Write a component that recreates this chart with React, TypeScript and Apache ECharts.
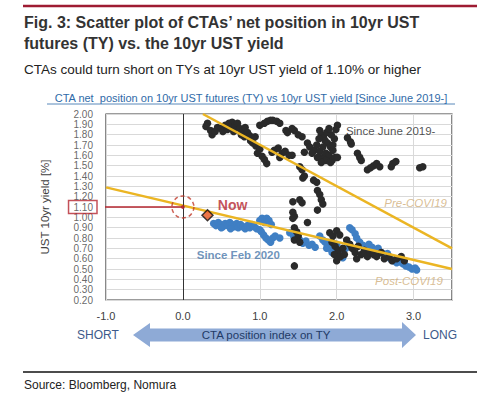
import React, { useEffect, useRef } from "react";
import * as echarts from "echarts";

// Since June 2019 (black) points [CTA position index, UST 10yr yield]
const sinceJune2019: number[][] = [
  [0.32, 1.91], [0.30, 1.88], [0.38, 1.80], [0.36, 1.84], [0.45, 1.87], [0.42, 1.83], [0.50, 1.86],
  [0.55, 1.89], [0.52, 1.83], [0.58, 1.85], [0.60, 1.91], [0.64, 1.92], [0.62, 1.87], [0.68, 1.88],
  [0.71, 1.91], [0.66, 1.83], [0.74, 1.86], [0.78, 1.84], [0.81, 1.87], [0.76, 1.80], [0.84, 1.82],
  [0.80, 1.78], [0.87, 1.79], [0.91, 1.77], [0.88, 1.74], [0.94, 1.78], [0.91, 1.72], [0.95, 1.69],
  [0.97, 1.62], [1.00, 1.66], [1.03, 1.59], [1.09, 1.52], [1.06, 1.56],
  [1.00, 1.89], [1.06, 1.91], [1.10, 1.93], [1.14, 1.94], [1.17, 1.94], [1.22, 1.93], [1.26, 1.91],
  [1.34, 1.84], [1.36, 1.82], [1.45, 1.84], [1.42, 1.86], [1.55, 1.78], [1.50, 1.80],
  [1.19, 1.65], [1.24, 1.67], [1.29, 1.62], [1.33, 1.64], [1.38, 1.60], [1.42, 1.60], [1.26, 1.58], [1.16, 1.63],
  [1.52, 1.49], [1.55, 1.46], [1.56, 1.38], [1.58, 1.40], [1.74, 1.34], [1.70, 1.36],
  [1.62, 1.72], [1.58, 1.63], [1.65, 1.68], [1.71, 1.65], [1.68, 1.62], [1.74, 1.70], [1.78, 1.84],
  [1.80, 1.80], [1.83, 1.77], [1.87, 1.82], [1.85, 1.74], [1.88, 1.72], [1.82, 1.68], [1.78, 1.64],
  [1.82, 1.58], [1.86, 1.62], [1.90, 1.60], [1.94, 1.55], [1.98, 1.58], [2.01, 1.58], [1.95, 1.65],
  [1.92, 1.68], [1.97, 1.76], [2.01, 1.89], [1.99, 1.85], [1.93, 1.80], [1.90, 1.86], [1.95, 1.70],
  [1.75, 1.58], [1.86, 1.55], [1.80, 1.53], [1.92, 1.53], [1.77, 1.76],
  [2.14, 1.77], [2.18, 1.73], [2.19, 1.71], [2.27, 1.62], [2.30, 1.58], [2.32, 1.55], [2.40, 1.46],
  [2.44, 1.48], [2.48, 1.50], [2.52, 1.52], [2.56, 1.49], [2.73, 1.52], [2.77, 1.54], [2.71, 1.49],
  [3.08, 1.48], [3.12, 1.49],
  [1.52, 1.17], [1.55, 1.14], [1.43, 1.15], [1.75, 1.26], [1.78, 1.22], [1.80, 1.17], [1.82, 1.13],
  [1.75, 1.07], [1.43, 1.05], [1.45, 1.01], [1.43, 0.99], [1.62, 0.95], [1.45, 0.90], [1.48, 0.86],
  [1.50, 0.82], [1.45, 0.78], [1.52, 0.76], [1.45, 0.53],
  [1.91, 0.85], [1.95, 0.82], [2.00, 0.87], [2.04, 0.83], [1.94, 0.76], [1.98, 0.72], [2.02, 0.68],
  [1.97, 0.64], [2.00, 0.58], [2.05, 0.62], [2.08, 0.70], [2.13, 0.78], [2.17, 0.74], [2.20, 0.70],
  [2.24, 0.66], [2.28, 0.72], [2.32, 0.64], [2.36, 0.68], [2.40, 0.62], [2.43, 0.66], [2.48, 0.64],
  [2.52, 0.62], [2.58, 0.66], [2.62, 0.60], [2.68, 0.62], [2.72, 0.58], [2.78, 0.60], [2.84, 0.62],
  [2.88, 0.58], [2.10, 0.64], [2.26, 0.60],
];

// Since Feb 2020 (blue) points
const sinceFeb2020: number[][] = [
  [0.40, 0.94], [0.43, 0.92], [0.46, 0.95], [0.49, 0.93], [0.52, 0.91], [0.55, 0.94], [0.58, 0.92],
  [0.61, 0.95], [0.64, 0.93], [0.67, 0.91], [0.70, 0.94], [0.72, 0.90], [0.75, 0.93], [0.78, 0.91],
  [0.81, 0.89], [0.84, 0.92], [0.87, 0.90], [0.90, 0.93], [0.93, 0.91], [0.96, 0.89], [0.62, 0.89], [0.50, 0.90],
  [1.00, 0.97], [1.03, 0.99], [1.06, 0.95], [1.09, 0.99], [1.12, 0.97], [1.15, 0.93], [1.02, 0.86],
  [1.05, 0.83], [1.08, 0.80], [1.11, 0.78], [1.14, 0.76], [1.17, 0.80], [1.20, 0.82], [1.26, 0.80], [1.00, 0.88],
  [1.39, 0.85], [1.44, 0.82], [1.48, 0.80], [1.52, 0.78], [1.56, 0.75], [1.60, 0.77], [1.64, 0.73],
  [1.68, 0.74], [1.72, 0.71], [1.45, 0.79],
  [1.78, 0.82], [1.82, 0.78], [1.85, 0.76], [1.88, 0.74], [1.91, 0.70], [1.94, 0.66], [1.97, 0.68],
  [2.00, 0.63], [2.04, 0.66], [2.08, 0.61], [2.12, 0.70], [2.16, 0.74], [2.17, 0.90], [2.20, 0.88],
  [2.24, 0.84], [2.26, 0.80], [2.30, 0.76], [2.34, 0.73], [2.38, 0.70], [2.42, 0.74], [2.46, 0.71],
  [2.50, 0.68], [2.54, 0.70], [2.58, 0.66], [2.62, 0.63], [2.66, 0.65], [2.70, 0.60], [2.74, 0.58],
  [2.78, 0.56], [2.82, 0.57], [2.86, 0.55], [2.90, 0.53], [2.94, 0.52], [2.98, 0.50], [3.02, 0.51],
  [3.04, 0.49], [1.87, 0.70], [2.00, 0.74],
];

const preCovidTrend: number[][] = [[0.26, 2.0], [3.5, 0.70]];
const postCovidTrend: number[][] = [[-1.0, 1.29], [3.5, 0.50]];
const nowPoint: number[] = [0.32, 1.02];
const thresholdYield = 1.10;
const thresholdLine: number[][] = [[-1.12, 1.10], [0, 1.10]];

const xMin = -1, xMax = 3.5, xStep = 1;
const yMin = 0.2, yMax = 2.0, yStep = 0.1;
const yTickLabels: string[] = [
  "0.20", "0.30", "0.40", "0.50", "0.60", "0.70", "0.80", "0.90", "1.00", "1.10",
  "1.20", "1.30", "1.40", "1.50", "1.60", "1.70", "1.80", "1.90", "2.00",
];

const annotations = [
  { text: "Now", pos: [0.455, 1.115], color: "#b5262f", size: 14, weight: "bold", style: "normal" },
  { text: "Since June 2019-", pos: [2.12, 1.835], color: "#262626", size: 11.5, weight: "normal", style: "normal" },
  { text: "Pre-COVI19", pos: [2.62, 1.14], color: "#cfad78", size: 11.5, weight: "normal", style: "italic" },
  { text: "Since Feb 2020", pos: [0.18, 0.64], color: "#4a78aa", size: 11.5, weight: "bold", style: "normal" },
  { text: "Post-COVI19", pos: [2.50, 0.38], color: "#cfad78", size: 11.5, weight: "normal", style: "italic" },
];

const FONT = "'Liberation Sans', Arial, sans-serif";

export default function App() {
  const ref = useRef<HTMLDivElement>(null);
  useEffect(() => {
    document.body.style.margin = "0";
    const chart = echarts.init(ref.current!, null, { renderer: "svg" });
    const option: any = {
      animation: false,
      backgroundColor: "#ffffff",
      textStyle: { fontFamily: FONT },
      grid: {
        left: 106, right: 48, top: 114, bottom: 97,
        show: true, borderColor: "#3a3a3a", borderWidth: 1.2, backgroundColor: "transparent",
      },
      xAxis: {
        type: "value", min: xMin, max: xMax, interval: xStep,
        axisLine: { show: false, onZero: false },
        axisTick: { show: false },
        splitLine: { show: true, lineStyle: { color: "#d9d9d9", width: 1 } },
        axisLabel: {
          margin: 10, color: "#404040", fontSize: 11, fontFamily: FONT,
          formatter: (v: number) => (Math.abs(v - Math.round(v)) < 1e-9 ? v.toFixed(1) : ""),
        },
      },
      yAxis: {
        type: "value", min: yMin, max: yMax, interval: yStep,
        axisLine: { show: false, onZero: false },
        axisTick: { show: false },
        splitLine: { show: true, lineStyle: { color: "#d9d9d9", width: 1 } },
        name: "UST 10yr yield [%]",
        nameLocation: "middle",
        nameGap: 55,
        nameTextStyle: { color: "#404040", fontSize: 11.5, fontFamily: FONT },
        axisLabel: { show: false },
      },
      series: [
        {
          type: "scatter", name: "Since Feb 2020", data: sinceFeb2020, symbolSize: 7.5,
          itemStyle: { color: "#3f7fc4", opacity: 1 }, z: 2,
        },
        {
          type: "scatter", name: "Since June 2019", data: sinceJune2019, symbolSize: 7.5,
          itemStyle: { color: "#2a2a2a", opacity: 1 }, z: 3,
          markLine: {
            silent: true, symbol: "none", label: { show: false },
            lineStyle: { color: "#333333", width: 1, type: "solid" },
            data: [{ xAxis: 0 }],
          },
        },
        {
          type: "line", name: "Pre-COVID19", data: preCovidTrend, showSymbol: false, symbol: "none",
          lineStyle: { color: "#ebb523", width: 2.5 }, z: 4,
        },
        {
          type: "line", name: "Post-COVID19", data: postCovidTrend, showSymbol: false, symbol: "none",
          lineStyle: { color: "#ebb523", width: 2.5 }, z: 4,
        },
        {
          type: "line", name: "threshold", data: thresholdLine, showSymbol: false, symbol: "none",
          clip: false, lineStyle: { color: "#b5262f", width: 1.5 }, z: 5,
        },
        {
          type: "scatter", name: "circle", data: [[0, thresholdYield]], symbol: "circle", symbolSize: 22,
          itemStyle: { color: "rgba(0,0,0,0)", borderColor: "#c0392b", borderWidth: 1.5, borderType: [4, 3] }, z: 6,
        },
        {
          type: "scatter", name: "centerDot", data: [[0, thresholdYield]], symbol: "circle", symbolSize: 4,
          itemStyle: { color: "#b5262f" }, z: 6,
        },
        {
          type: "scatter", name: "Now", data: [nowPoint], symbol: "diamond", symbolSize: [11, 11],
          itemStyle: { color: "#e8541c", borderColor: "#111111", borderWidth: 1.5 }, z: 7,
        },
        {
          type: "scatter", name: "labels", symbolSize: 0, z: 8, silent: true,
          data: annotations.map((a) => ({
            value: a.pos,
            label: {
              show: true, formatter: a.text, position: "right", distance: 0,
              align: "left", verticalAlign: "middle",
              color: a.color, fontSize: a.size, fontWeight: a.weight, fontStyle: a.style, fontFamily: FONT,
            },
          })),
        },
        {
          type: "scatter", name: "yTickLabels", symbolSize: 0, z: 8, silent: true, clip: false,
          data: yTickLabels.map((t) => {
            const isBox = Math.abs(parseFloat(t) - thresholdYield) < 1e-6;
            return {
              value: [xMin, parseFloat(t)],
              label: {
                show: true, formatter: t, position: "left", distance: isBox ? 9 : 13,
                align: "right", verticalAlign: "middle",
                color: "#404040", fontSize: 10, lineHeight: 10, fontFamily: FONT,
                ...(isBox
                  ? { borderColor: "#b5262f", borderWidth: 1.5, padding: [2, 4, 1, 5] }
                  : {}),
              },
            };
          }),
        },
      ],
      graphic: [
        { type: "line", shape: { x1: 23, y1: 6, x2: 477, y2: 6 }, style: { stroke: "#9e1b32", lineWidth: 2.5 } },
        {
          type: "text", x: 24, y: 22,
          style: { text: "Fig. 3: Scatter plot of CTAs’ net position in 10yr UST", fill: "#333333", font: "bold 16px " + FONT, verticalAlign: "middle" },
        },
        {
          type: "text", x: 24, y: 43,
          style: { text: "futures (TY) vs. the 10yr UST yield", fill: "#333333", font: "bold 16px " + FONT, verticalAlign: "middle" },
        },
        {
          type: "text", x: 24, y: 69,
          style: { text: "CTAs could turn short on TYs at 10yr UST yield of 1.10% or higher", fill: "#222222", font: "13.5px " + FONT, verticalAlign: "middle" },
        },
        {
          type: "text", x: 251, y: 98,
          style: { text: "CTA net  position on 10yr UST futures (TY) vs 10yr UST yield [Since June 2019-]", fill: "#2f6aa8", font: "11px " + FONT, align: "center", verticalAlign: "middle" },
        },
        { type: "line", shape: { x1: 47, y1: 104, x2: 455, y2: 104 }, style: { stroke: "#2f6aa8", lineWidth: 0.8 } },
        {
          type: "polygon",
          shape: { points: [[133, 335], [150, 323], [150, 328.5], [402, 328.5], [402, 322], [416, 335], [402, 348], [402, 341.5], [150, 341.5], [150, 347]] },
          style: { fill: "#8eaad6" },
        },
        {
          type: "text", x: 266, y: 335,
          style: { text: "CTA position index on TY", fill: "#1f3a66", font: "11.5px " + FONT, align: "center", verticalAlign: "middle" },
        },
        {
          type: "text", x: 77, y: 335,
          style: { text: "SHORT", fill: "#3d5a8a", font: "12px " + FONT, verticalAlign: "middle" },
        },
        {
          type: "text", x: 423, y: 335,
          style: { text: "LONG", fill: "#3d5a8a", font: "12px " + FONT, verticalAlign: "middle" },
        },
        { type: "line", shape: { x1: 23, y1: 372, x2: 477, y2: 372 }, style: { stroke: "#111111", lineWidth: 1.5 } },
        {
          type: "text", x: 24, y: 385,
          style: { text: "Source: Bloomberg, Nomura", fill: "#222222", font: "12px " + FONT, verticalAlign: "middle" },
        },
      ],
    };
    chart.setOption(option);
    return () => chart.dispose();
  }, []);
  return (
    <div
      ref={ref}
      style={{ position: "fixed", left: 0, top: 0, width: 500, height: 397, background: "#fff" }}
    />
  );
}
